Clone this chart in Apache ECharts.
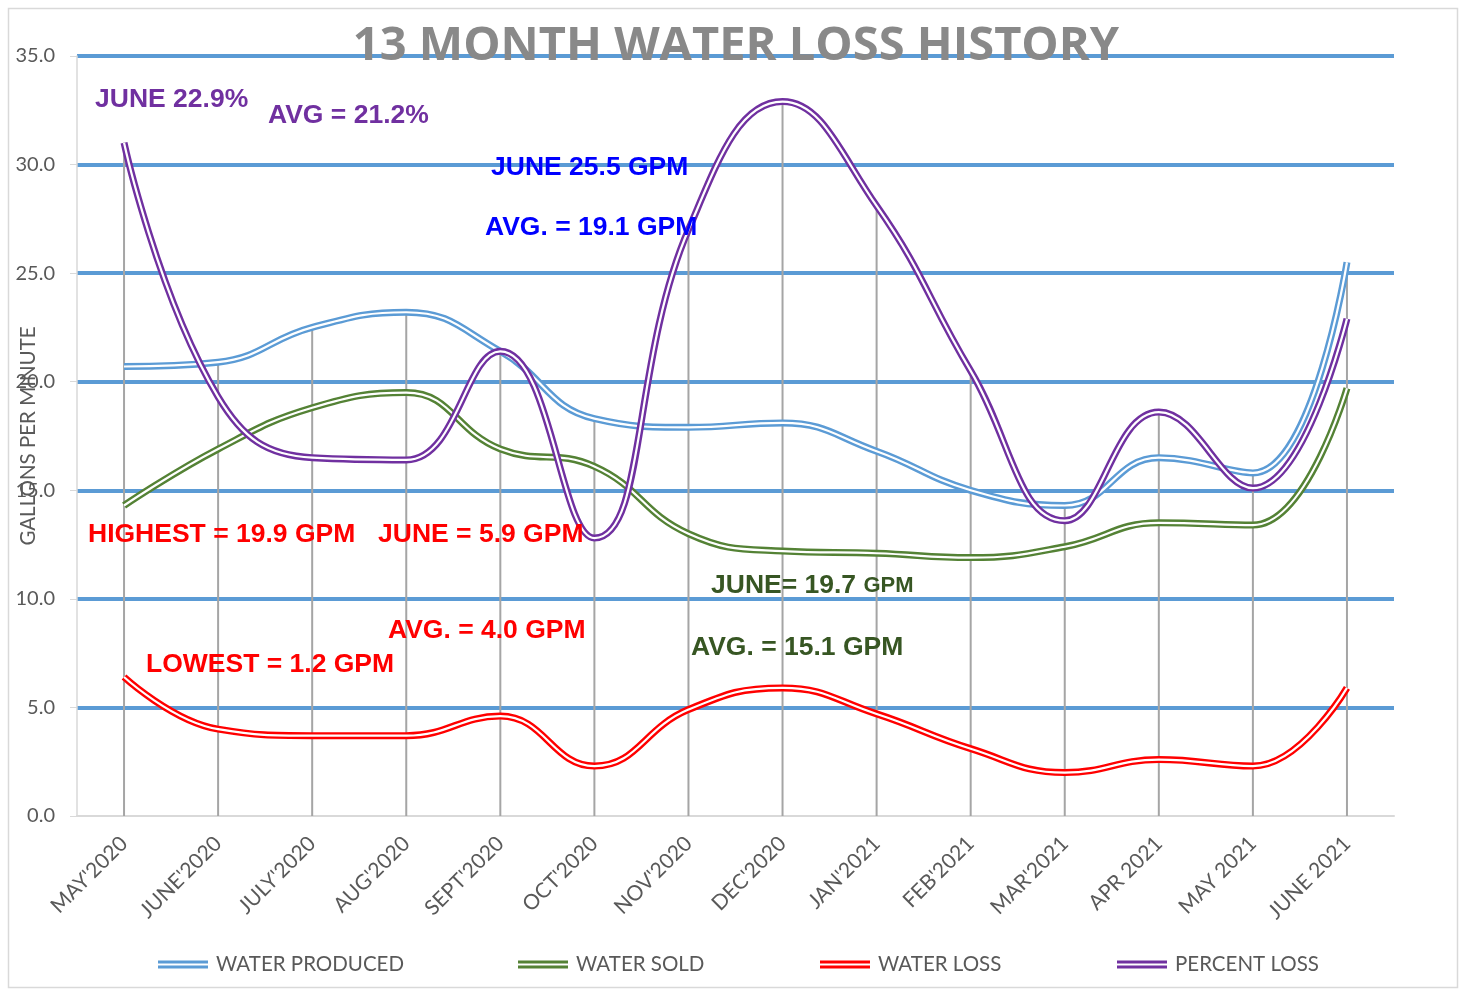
<!DOCTYPE html>
<html><head><meta charset="utf-8">
<script src="https://cdn.jsdelivr.net/npm/echarts@6/dist/echarts.min.js"></script>
<style>html,body{margin:0;padding:0;background:#fff}#c{width:1460px;height:990px}</style>
</head><body><div id="c"></div>
<script>
const categories = ["MAY'2020","JUNE'2020","JULY'2020","AUG'2020","SEPT'2020","OCT'2020","NOV'2020","DEC'2020","JAN'2021","FEB'2021","MAR'2021","APR 2021","MAY 2021","JUNE 2021"];
const waterProduced = [20.7, 20.9, 22.5, 23.2, 21.4, 18.3, 17.9, 18.1, 16.8, 15.0, 14.3, 16.5, 15.8, 25.5];
const waterSold     = [14.3, 16.9, 18.8, 19.5, 16.9, 16.1, 13.0, 12.2, 12.1, 11.9, 12.4, 13.5, 13.4, 19.7];
const waterLoss     = [6.4, 4.0, 3.7, 3.7, 4.6, 2.3, 4.9, 5.9, 4.7, 3.1, 2.0, 2.6, 2.3, 5.9];
const percentLoss   = [31.0, 19.3, 16.5, 16.4, 21.4, 12.8, 27.0, 32.9, 28.1, 20.5, 13.6, 18.6, 15.1, 22.9];
const yTicks = [0, 5, 10, 15, 20, 25, 30, 35];
const seriesNames = ['WATER PRODUCED', 'WATER SOLD', 'WATER LOSS', 'PERCENT LOSS'];
const annotations = [
  {text: 'JUNE 22.9%', color: '#7030A0'},
  {text: 'AVG = 21.2%', color: '#7030A0'},
  {text: 'JUNE 25.5 GPM', color: '#0000FF'},
  {text: 'AVG. = 19.1 GPM', color: '#0000FF'},
  {text: 'HIGHEST = 19.9 GPM', color: '#FF0000'},
  {text: 'JUNE = 5.9 GPM', color: '#FF0000'},
  {text: 'AVG. = 4.0 GPM', color: '#FF0000'},
  {text: 'LOWEST = 1.2 GPM', color: '#FF0000'},
  {text: 'AVG. = 15.1 GPM', color: '#375623'}
];
const annPos = [[95,100],[268,116],[491,168],[485,228],[88,535],[378,535],[388,631],[146,665],[691,648]];

const colors = ['#5B9BD5', '#548235', '#FF0000', '#7030A0'];
const datasets = [waterProduced, waterSold, waterLoss, percentLoss];
const dropValues = categories.map((_, i) => Math.max(...datasets.map(d => d[i])));

const chart = echarts.init(document.getElementById('c'));
const series = [{
  type: 'bar', name: 'drop', data: dropValues, barWidth: 2, silent: true,
  itemStyle: {color: '#A5A5A5'}, z: 1
}];
seriesNames.forEach((n, k) => {
  series.push({type: 'line', name: n, data: datasets[k], smooth: 0.45, symbol: 'none',
    lineStyle: {color: colors[k], width: 7}, itemStyle: {color: colors[k]}, z: 3, silent: true});
  series.push({type: 'line', name: n + '_in', data: datasets[k], smooth: 0.45, symbol: 'none',
    lineStyle: {color: '#FFFFFF', width: 2.2}, itemStyle: {color: '#fff'}, z: 3, silent: true});
});
const legLeft = [153, 513, 815, 1112];
const icon = 'path://M0,0L50,0L50,3L0,3Z M0,5L50,5L50,8L0,8Z';
const graphics = [{type: 'rect', shape: {x: 8.5, y: 8.5, width: 1449, height: 979}, style: {fill: 'none', stroke: '#D9D9D9', lineWidth: 1.5}, z: -10}];
annotations.forEach((a, i) => {
  graphics.push({type: 'text', x: annPos[i][0], y: annPos[i][1], z: 50,
    style: {text: a.text, fill: a.color, font: 'bold 26.5px "Liberation Sans", Arial, sans-serif', textVerticalAlign: 'middle'}});
});
graphics.push({type: 'text', x: 711, y: 586, z: 50,
  style: {rich: {a: {fill: '#375623', font: 'bold 26.5px "Liberation Sans", Arial, sans-serif'}, b: {fill: '#375623', font: 'bold 22px "Liberation Sans", Arial, sans-serif'}},
    text: '{a|JUNE= 19.7 }{b|GPM}', textVerticalAlign: 'middle'}});

chart.setOption({
  animation: false,
  title: {text: '13 MONTH WATER LOSS HISTORY', left: 731, textAlign: 'center', top: 18,
    textStyle: {fontFamily: '"Open Sans"', fontWeight: 'bold', fontSize: 47, color: '#898989'}},
  grid: {left: 77, right: 66, top: 56, bottom: 174, containLabel: false, outerBoundsMode: 'none'},
  legend: seriesNames.map((n, k) => ({data: [n], left: legLeft[k], top: 949, icon: icon, itemWidth: 50, itemHeight: 8,
    textStyle: {fontFamily: 'Lato', fontSize: 20.5, color: '#595959', padding: [0, 0, 0, 3]}, selectedMode: false})),
  xAxis: {type: 'category', data: categories, boundaryGap: true,
    axisLine: {lineStyle: {color: '#D9D9D9', width: 2}}, axisTick: {show: false},
    axisLabel: {rotate: 45, margin: 24, fontFamily: 'Lato', fontSize: 21, color: '#595959', interval: 0}},
  yAxis: {type: 'value', min: yTicks[0], max: yTicks[yTicks.length - 1], interval: 5,
    name: 'GALLONS PER MINUTE', nameLocation: 'middle', nameGap: 38, nameRotate: 90, nameMoveOverlap: false,
    nameTextStyle: {fontFamily: 'Lato', fontSize: 20.5, color: '#595959'},
    axisLine: {show: true, lineStyle: {color: '#D9D9D9', width: 1.5}},
    axisTick: {show: true, length: 7, lineStyle: {color: '#D9D9D9'}},
    axisLabel: {margin: 22, fontFamily: 'Lato', fontSize: 20, color: '#595959', formatter: v => v.toFixed(1)},
    splitLine: {show: true, lineStyle: {color: yTicks.map((t, i) => i === 0 ? 'rgba(0,0,0,0)' : '#5B9BD5'), width: 4}}},
  series: series,
  graphic: graphics
});
</script></body></html>
